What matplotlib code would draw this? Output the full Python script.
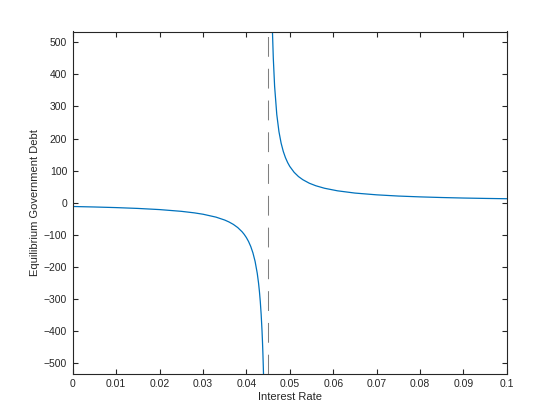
import numpy as np
import matplotlib
matplotlib.use("Agg")
import matplotlib.pyplot as plt

# values (two branches around the asymptote)
rate_low = [0.0, 0.005, 0.01, 0.015, 0.02, 0.025, 0.028, 0.03, 0.033, 0.035,
            0.036, 0.037, 0.038, 0.039, 0.0395, 0.040, 0.0405, 0.041, 0.0415,
            0.042, 0.0425, 0.0428, 0.043, 0.0432, 0.0434, 0.0436, 0.0437,
            0.0438, 0.0439, 0.04395, 0.044]
debt_low = [-12.01, -13.52, -15.45, -18.03, -21.64, -27.07, -31.86, -36.12,
            -45.19, -54.27, -60.34, -67.92, -77.70, -90.76, -99.08, -109.09,
            -121.35, -136.71, -156.52, -183.05, -220.41, -251.16, -276.92,
            -308.57, -348.39, -400.0, -432.0, -469.57, -514.29, -540.0, -568.0]

rate_high = [0.0459, 0.046, 0.0462, 0.0465, 0.047, 0.0475, 0.048, 0.0485,
             0.049, 0.0495, 0.050, 0.051, 0.052, 0.053, 0.0545, 0.056, 0.058,
             0.061, 0.065, 0.070, 0.075, 0.080, 0.085, 0.090, 0.095, 0.100]
debt_high = [591, 535, 450, 363, 275, 221.6, 185.6, 159.7, 140.3, 125.1,
             112.9, 94.6, 81.4, 71.6, 60.6, 52.7, 44.9, 36.9, 29.9, 24.4,
             20.6, 18.0, 16.0, 14.4, 13.2, 12.2]

asymptote = 0.0449

xticks = [0.0, 0.01, 0.02, 0.03, 0.04, 0.05, 0.06, 0.07, 0.08, 0.09, 0.1]
xticklabels = ["0", "0.01", "0.02", "0.03", "0.04", "0.05", "0.06", "0.07",
               "0.08", "0.09", "0.1"]
yticks = [-500, -400, -300, -200, -100, 0, 100, 200, 300, 400, 500]

plt.rcParams["font.family"] = ["Liberation Sans", "DejaVu Sans"]

fig = plt.figure(figsize=(5.6, 4.2), dpi=100)
ax = fig.add_axes([0.13, 0.11, 0.775, 0.815])

blue = "#0072BD"
ax.plot(rate_low, debt_low, color=blue, lw=0.9)
ax.plot(rate_high, debt_high, color=blue, lw=0.9)
ax.axvline(asymptote, color="#808080", lw=0.75, linestyle=(0, (19, 11.5)))

ax.set_xlim(0, 0.1)
ax.set_ylim(-534, 534)
ax.set_xticks(xticks)
ax.set_xticklabels(xticklabels)
ax.set_yticks(yticks)

dark = "#262626"
for s in ax.spines.values():
    s.set_color(dark)
    s.set_linewidth(0.8)
ax.tick_params(direction="in", top=True, right=True, length=3.5, width=0.8,
               colors=dark, labelsize=7.5, pad=4)

ax.set_xlabel("Interest Rate", fontsize=8, color=dark, labelpad=2)
ax.set_ylabel("Equilibrium Government Debt", fontsize=8, color=dark, labelpad=3)

fig.savefig("out.png", dpi=100)
